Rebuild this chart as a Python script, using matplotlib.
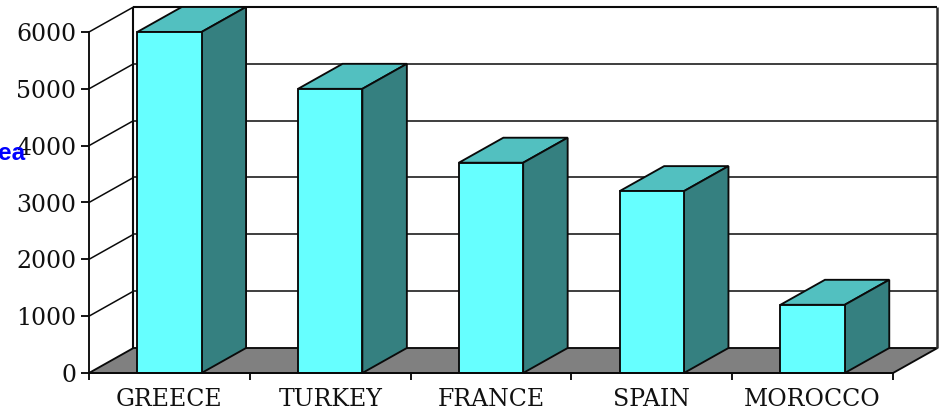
import matplotlib
matplotlib.use("Agg")
import matplotlib.pyplot as plt
from matplotlib.patches import Polygon

countries = ["GREECE", "TURKEY", "FRANCE", "SPAIN", "MOROCCO"]
values = [6000, 5000, 3700, 3200, 1200]
y_ticks = [0, 1000, 2000, 3000, 4000, 5000, 6000]

W, H = 945, 411
fig = plt.figure(figsize=(W / 100, H / 100), dpi=100, facecolor="white")
ax = fig.add_axes([89 / W, (H - 373) / H, (893 - 89) / W, (373 - 32) / H])
ax.set_xlim(0, len(countries))
ax.set_ylim(0, 6000)

# Oblique depth of the 3D box, in data units
DX = 44.5 / 160.8
DY = 25 / (341 / 6000)
LW = 1.35
INK = "#0a0a0a"


def poly(points, face, z, edge=INK):
    ax.add_patch(Polygon(points, closed=True, facecolor=face, edgecolor=edge,
                         linewidth=LW, zorder=z, clip_on=False, joinstyle="miter"))


def line(xs, ys, z=2, lw=LW, color=INK):
    ax.plot(xs, ys, color=color, lw=lw, zorder=z, clip_on=False, solid_capstyle="butt")


n = len(countries)
ymax = y_ticks[-1]

# Floor and walls
poly([(0, 0), (n, 0), (n + DX, DY), (DX, DY)], "#808080", 1)
line([DX, DX], [DY, ymax + DY], lw=1.5)
line([n + DX, n + DX], [DY, ymax + DY], lw=1.8, color="#303030")
for v in y_ticks[1:]:
    line([0, DX], [v, v + DY], lw=1.1)
    line([DX, n + DX], [v + DY, v + DY], lw=1.5 if v == ymax else 1.1)

# Bars: top and side faces behind the front face
for i, v in enumerate(values):
    x0, x1 = i + 0.3, i + 0.7
    poly([(x0, v), (x1, v), (x1 + DX, v + DY), (x0 + DX, v + DY)], "#52C0C0", 3)
    poly([(x1, 0), (x1 + DX, DY), (x1 + DX, v + DY), (x1, v)], "#358080", 3)
ax.bar([i + 0.5 for i in range(n)], values, width=0.4, color="#66FFFF",
       edgecolor=INK, linewidth=LW, zorder=4, clip_on=False)

# Axes
for side in ("top", "right"):
    ax.spines[side].set_visible(False)
for side in ("left", "bottom"):
    ax.spines[side].set_linewidth(LW)
    ax.spines[side].set_color(INK)
    ax.spines[side].set_zorder(5)
ax.patch.set_alpha(0)

serif = {"family": "DejaVu Serif", "size": 17, "color": "#111111"}
ax.set_yticks(y_ticks)
ax.set_yticklabels([str(v) for v in y_ticks], **serif)
ax.tick_params(axis="y", length=6, width=LW, color=INK, pad=3)
ax.set_xticks(range(n + 1))
ax.set_xticklabels([""] * (n + 1))
ax.tick_params(axis="x", which="major", length=5, width=LW, color=INK)
ax.set_xticks([i + 0.5 for i in range(n)], minor=True)
ax.set_xticklabels(countries, minor=True, **serif)
ax.tick_params(axis="x", which="minor", length=0, pad=11)

# Axis title remnant at the left edge
fig.text(25 / W, 1 - 153 / H, "ea", color="#0000FF", ha="right", va="center",
         family="Liberation Sans", weight="bold", size=17.5, zorder=10)

fig.savefig("out.png", dpi=100)
